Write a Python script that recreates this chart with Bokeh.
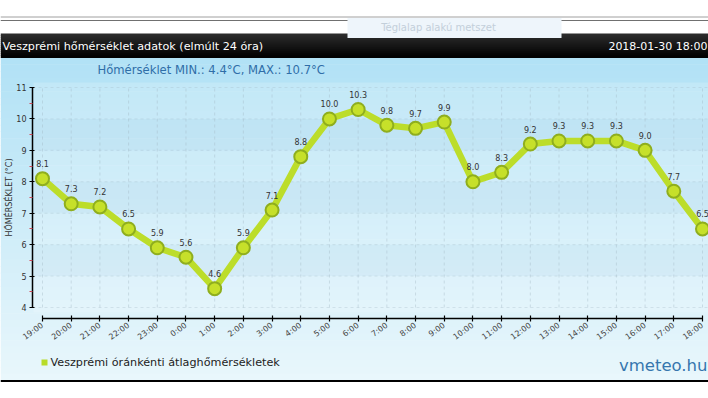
import numpy as np
from bokeh.plotting import figure
from bokeh.models import Range1d, LinearAxis, FixedTicker, ColumnDataSource
from bokeh.core.properties import value
from bokeh.embed import file_html
from bokeh.resources import INLINE

# ---------------- data ----------------
hours = ["19:00", "20:00", "21:00", "22:00", "23:00", "0:00", "1:00", "2:00",
         "3:00", "4:00", "5:00", "6:00", "7:00", "8:00", "9:00", "10:00",
         "11:00", "12:00", "13:00", "14:00", "15:00", "16:00", "17:00", "18:00"]
temps = [8.1, 7.3, 7.2, 6.5, 5.9, 5.6, 4.6, 5.9, 7.1, 8.8, 10.0, 10.3,
         9.8, 9.7, 9.9, 8.0, 8.3, 9.2, 9.3, 9.3, 9.3, 9.0, 7.7, 6.5]
y_ticks = [4, 5, 6, 7, 8, 9, 10, 11]
title_text = "Veszprémi hőmérséklet adatok (elmúlt 24 óra)"
date_text = "2018-01-30 18:00"
subtitle_text = "Hőmérséklet MIN.: 4.4°C, MAX.: 10.7°C"
legend_text = "Veszprémi óránkénti átlaghőmérsékletek"
y_label = "HŐMÉRSÉKLET (°C)"
brand_text = "vmeteo.hu"
box_text = "Téglalap alakú metszet"

FONT = "DejaVu Sans"

# ---------------- layout (page pixel coordinates) ----------------
W, H = 708, 398
OX, OY = 0, 0
X_FIRST, X_LAST = 42, 702      # page x of first / last hour tick
Y_HI, Y_LO = 87, 307           # page y of top / bottom y tick
AXIS_X, AXIS_Y = 32, 318       # page x of y axis, page y of x axis

n = len(hours)
xs = list(range(n))
vmin, vmax = y_ticks[0], y_ticks[-1]
sx = (X_LAST - X_FIRST) / (n - 1)
sy = (Y_LO - Y_HI) / (vmax - vmin)
x_start = (OX - X_FIRST) / sx
x_end = (OX + W - X_FIRST) / sx
y_top = vmax + (Y_HI - OY) / sy
y_bot = vmax - (OY + H - Y_HI) / sy
yaxis_loc = (AXIS_X - X_FIRST) / sx
xaxis_loc = vmax - (AXIS_Y - Y_HI) / sy

p = figure(width=W, height=H, x_range=Range1d(x_start, x_end),
           y_range=Range1d(y_bot, y_top), x_axis_type=None, y_axis_type=None,
           toolbar_location=None, output_backend="svg", min_border=0,
           title=None, outline_line_color=None,
           background_fill_color="white", border_fill_color="white")
p.extra_x_ranges = {"px": Range1d(OX, OX + W)}
p.extra_y_ranges = {"px": Range1d(OY + H, OY)}
PX = dict(x_range_name="px", y_range_name="px")

# ---------------- decoration: page background ----------------
g_top, g_bot, steps = 57, 380, 48
edges = np.linspace(g_top, g_bot, steps + 1)
c0 = np.array([178, 226, 246])
c1 = np.array([233, 247, 252])
cols = ["#%02x%02x%02x" % tuple(int(v) for v in c0 + (c1 - c0) * t)
        for t in np.linspace(0, 1, steps)]
p.quad(left=[0] * steps, right=[720] * steps, top=list(edges[:-1]),
       bottom=list(edges[1:] + 0.6), fill_color=cols, line_color=None,
       level="image", **PX)
p.quad(left=[AXIS_X + 1], right=[720], top=[82], bottom=[312],
       fill_color="white", fill_alpha=0.18, line_color=None, level="image", **PX)
p.segment(x0=[0], y0=[380.5], x1=[720], y1=[380.5], line_color="black",
          line_width=2, **PX)

# header bar (dark gradient)
h_edges = np.linspace(33, 57, 13)
h0 = np.array([44, 44, 44]); h1 = np.array([2, 2, 2])
h_cols = ["#%02x%02x%02x" % tuple(int(v) for v in h0 + (h1 - h0) * t)
          for t in np.linspace(0, 1, 12)]
p.quad(left=[0] * 12, right=[720] * 12, top=list(h_edges[:-1]),
       bottom=list(h_edges[1:] + 0.6), fill_color=h_cols, line_color=None,
       level="image", **PX)
p.segment(x0=[0, 0], y0=[16.5, 20], x1=[720, 720], y1=[16.5, 20],
          line_color=["#a0a0a0", "#707070"], line_width=1, **PX)
p.quad(left=[347], right=[561], top=[17.5], bottom=[37.5],
       fill_color="#eef5fb", line_color=None, **PX)
p.text(x=[438], y=[27], text=[box_text], text_font=value(FONT),
       text_font_size="10px", text_color="#c3cfda", text_align="center",
       text_baseline="middle", **PX)

# header texts
p.text(x=[2], y=[45.5], text=[title_text], text_font=value(FONT),
       text_font_size="11.2px", text_color="white", text_align="left",
       text_baseline="middle", **PX)
p.text(x=[707], y=[45.5], text=[date_text], text_font=value(FONT),
       text_font_size="11px", text_color="white", text_align="right",
       text_baseline="middle", **PX)
p.text(x=[97], y=[69], text=[subtitle_text], text_font=value(FONT),
       text_font_size="11.6px", text_color="#2f6ea8", text_align="left",
       text_baseline="middle", **PX)

# legend & brand
p.quad(left=[41], right=[47], top=[359], bottom=[365],
       fill_color="#b8dc2a", line_color=None, **PX)
p.text(x=[50], y=[362], text=[legend_text], text_font=value(FONT),
       text_font_size="11.2px", text_color="#222222", text_align="left",
       text_baseline="middle", **PX)
p.text(x=[707], y=[365], text=[brand_text], text_font=value(FONT),
       text_font_size="16.5px", text_color="#3676ae", text_align="right",
       text_baseline="middle", **PX)

# ---------------- plot area: bands & grid (data coords) ----------------
band_lo = [y_ticks[i] for i in range(1, len(y_ticks) - 1, 2)]
band_hi = [y_ticks[i + 1] for i in range(1, len(y_ticks) - 1, 2)]
p.quad(left=[yaxis_loc] * len(band_lo), right=[x_end] * len(band_lo),
       bottom=band_lo, top=band_hi, fill_color="#5a9ec4", fill_alpha=0.07,
       line_color=None, level="underlay")
p.segment(x0=xs, y0=[vmin] * n, x1=xs, y1=[vmax] * n, line_color="#9fb6c4",
          line_alpha=0.4, line_dash="3 3", line_width=1, level="underlay")
p.segment(x0=[yaxis_loc] * len(y_ticks), y0=y_ticks, x1=[x_end] * len(y_ticks),
          y1=y_ticks, line_color="#9fb6c4", line_alpha=0.3, line_dash="3 3",
          line_width=1, level="underlay")

# ---------------- series ----------------
src = ColumnDataSource(dict(x=xs, y=temps, lab=["%.1f" % t for t in temps]))
p.line("x", "y", source=src, line_color="#bcdd2a", line_width=6.5,
       line_join="round")
p.scatter("x", "y", source=src, size=13, fill_color="#c6e02a",
          line_color="#8fae1e", line_width=2)
p.text("x", "y", text="lab", source=src, y_offset=-15,
       text_font=value(FONT), text_font_size="8px", text_color="#333333",
       text_align="center", text_baseline="middle")

# ---------------- axes ----------------
minor = [(a + b) / 2 for a, b in zip(y_ticks[:-1], y_ticks[1:])]
yaxis = LinearAxis(fixed_location=yaxis_loc, bounds=(vmin, vmax),
                   ticker=FixedTicker(ticks=y_ticks, minor_ticks=minor))
yaxis.axis_label = y_label
yaxis.axis_label_text_font = FONT
yaxis.axis_label_text_font_style = "normal"
yaxis.axis_label_text_font_size = "8px"
yaxis.axis_label_text_color = "#333333"
yaxis.axis_label_standoff = -1
yaxis.major_label_text_font = FONT
yaxis.major_label_text_font_size = "8px"
yaxis.major_label_text_color = "#333333"
yaxis.major_label_standoff = 3
yaxis.major_tick_in = 2
yaxis.major_tick_out = 3
yaxis.minor_tick_in = 0
yaxis.minor_tick_out = 3
yaxis.minor_tick_line_color = "#d04858"
yaxis.axis_line_width = 1.5
yaxis.major_tick_line_width = 1.2
p.add_layout(yaxis, "left")

xaxis = LinearAxis(fixed_location=xaxis_loc, bounds=(0, n - 1),
                   ticker=FixedTicker(ticks=xs, minor_ticks=[]),
                   major_label_overrides={i: h for i, h in enumerate(hours)})
xaxis.major_label_orientation = 0.62
xaxis.major_label_text_font = FONT
xaxis.major_label_text_font_size = "8px"
xaxis.major_label_text_color = "#444444"
xaxis.major_label_standoff = 3
xaxis.major_tick_in = 3
xaxis.major_tick_out = 3
xaxis.minor_tick_line_color = None
xaxis.axis_line_width = 1.5
xaxis.major_tick_line_width = 1.2
p.add_layout(xaxis, "below")

open("out.html", "w").write(file_html(p, INLINE))
